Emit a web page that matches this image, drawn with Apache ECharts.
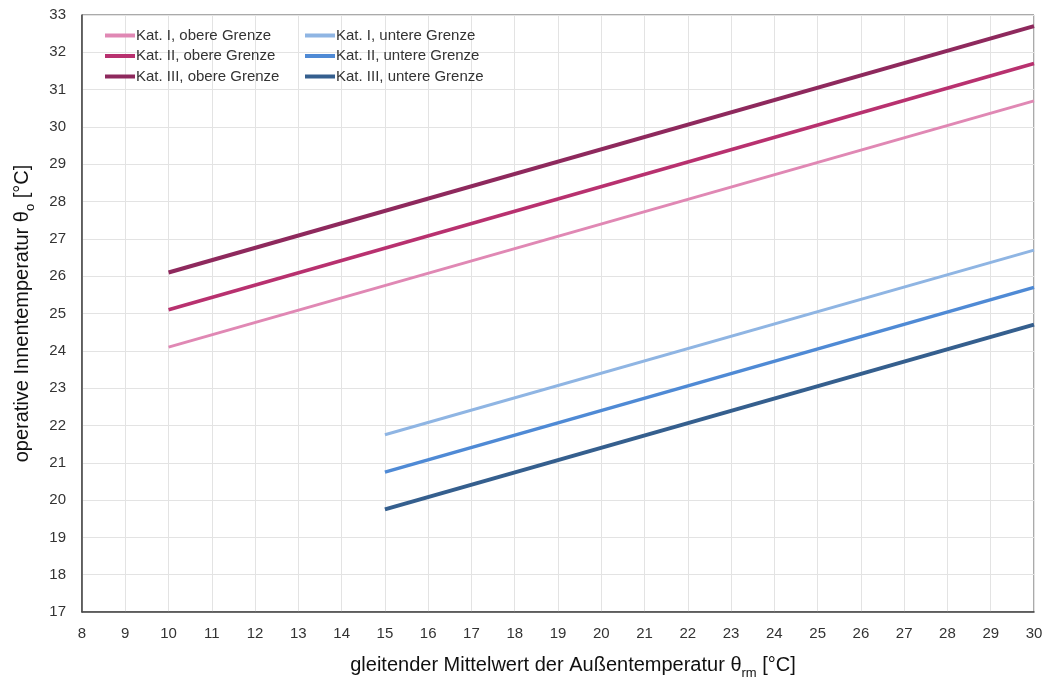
<!DOCTYPE html>
<html><head><meta charset="utf-8">
<script src="https://cdn.jsdelivr.net/npm/echarts@6/dist/echarts.min.js"></script>
<style>html,body{margin:0;padding:0;background:#fff}#c{width:1046px;height:677px}</style>
</head><body><div id="c"></div>
<script>
const xTicks = [8,30];
const yTicks = [17,33];
const upperX = [10, 30];
const lowerX = [15, 30];
const kat1Upper = [24.1, 30.7];
const kat2Upper = [25.1, 31.7];
const kat3Upper = [26.1, 32.7];
const kat1Lower = [21.75, 26.7];
const kat2Lower = [20.75, 25.7];
const kat3Lower = [19.75, 24.7];
const names = ['Kat. I, obere Grenze','Kat. II, obere Grenze','Kat. III, obere Grenze','Kat. I, untere Grenze','Kat. II, untere Grenze','Kat. III, untere Grenze'];
const colors = ['#e088b4','#b8316f','#8e295d','#8fb5e3','#4f8ad5','#355f8e'];
const widths = [3,3.5,4,3,3.5,4];
const ys = [kat1Upper,kat2Upper,kat3Upper,kat1Lower,kat2Lower,kat3Lower];
const xs = [upperX,upperX,upperX,lowerX,lowerX,lowerX];
const FONT = 'Liberation Sans';
const series = names.map((n,i)=>({
  name:n, type:'line', symbol:'none', animation:false,
  data: xs[i].map((x,j)=>[x, ys[i][j]]),
  lineStyle:{color:colors[i], width:widths[i]}, itemStyle:{color:colors[i]}
}));
const legendBase = {orient:'vertical', itemWidth:30, itemHeight:4, itemGap:5.5, top:23,
  icon:'rect', textStyle:{fontFamily:FONT, fontSize:15, color:'#333', padding:[0,0,0,-4]}};
const rich = {a:{fontSize:20, color:'#111', fontFamily:FONT, verticalAlign:'bottom', lineHeight:24},
      s:{fontSize:13, color:'#111', fontFamily:FONT, verticalAlign:'bottom', lineHeight:24, padding:[0,0,-5,0]}};
const chart = echarts.init(document.getElementById('c'));
chart.setOption({
  animation:false,
  textStyle:{fontFamily:FONT},
  grid:{left:82, right:12, top:15, bottom:65, show:true, borderColor:'#555', borderWidth:1, outerBoundsMode:'none', containLabel:false},
  legend:[
    Object.assign({}, legendBase, {left:100, data:names.slice(0,3)}),
    Object.assign({}, legendBase, {left:300, data:names.slice(3)})
  ],
  xAxis:{type:'value', min:xTicks[0], max:xTicks[1], interval:1,
    axisLine:{lineStyle:{color:'#444', width:1.5}}, axisTick:{show:false},
    axisLabel:{fontSize:15, color:'#333', margin:14, fontFamily:FONT},
    splitLine:{lineStyle:{color:'#e3e3e3'}},
    name:'{a|gleitender Mittelwert der Außentemperatur θ}{s|rm}{a| [°C]}',
    nameLocation:'middle', nameGap:39,
    nameTextStyle:{rich:rich, padding:[0,0,0,30]}
  },
  yAxis:{type:'value', min:yTicks[0], max:yTicks[1], interval:1,
    axisLine:{show:true, lineStyle:{color:'#444', width:1.5}}, axisTick:{show:false},
    axisLabel:{fontSize:15, color:'#333', margin:16, fontFamily:FONT},
    splitLine:{lineStyle:{color:'#e3e3e3'}},
    name:'{a|operative Innentemperatur θ}{s|o}{a| [°C]}',
    nameLocation:'middle', nameGap:50, nameRotate:90,
    nameTextStyle:{rich:rich}
  },
  series: series
});
</script></body></html>
